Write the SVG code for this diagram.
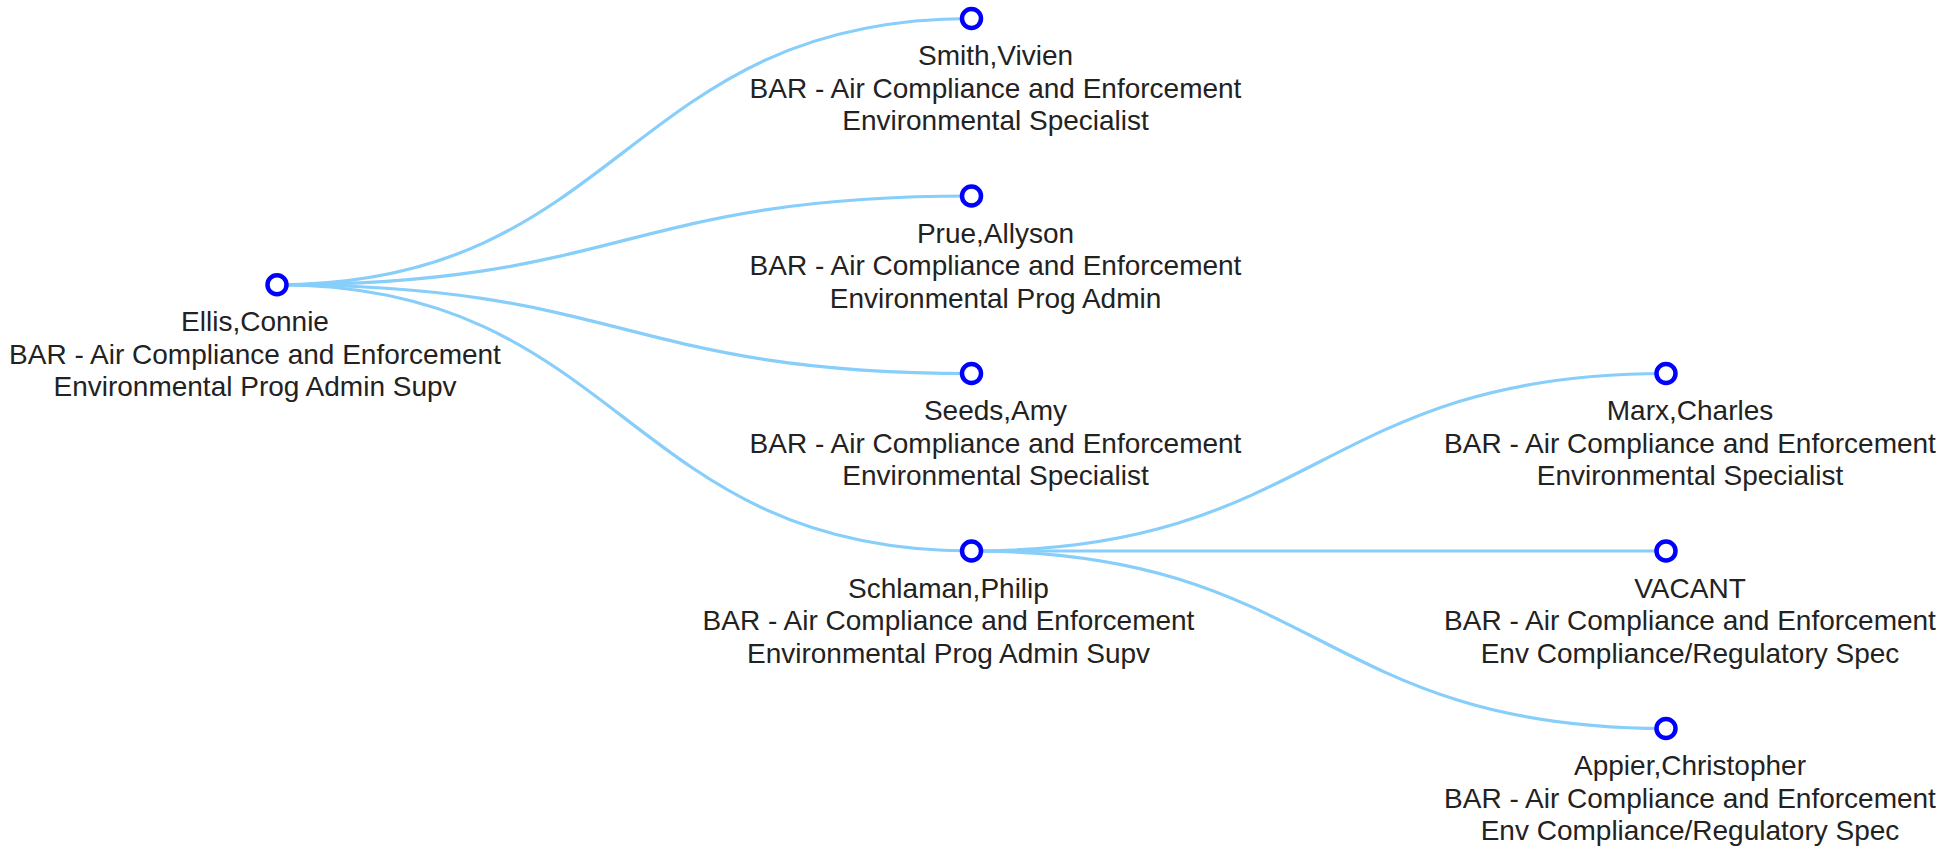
<svg xmlns="http://www.w3.org/2000/svg" width="1960" height="857" viewBox="0 0 1960 857">
<style>
.link{fill:none;stroke:#87cefa;stroke-width:3.2}
.node circle{fill:#fff;stroke:#0000ff;stroke-width:4.5}
.node text{font-family:"Liberation Sans",Arial,sans-serif;font-size:28px;fill:#222;text-anchor:middle}
</style>
<rect width="1960" height="857" fill="#fff"/>
<g id="connectors">
<path class="link" d="M277,284.75 C624.25,284.75 624.25,18.5 971.5,18.5"/>
<path class="link" d="M277,284.75 C624.25,284.75 624.25,196 971.5,196"/>
<path class="link" d="M277,284.75 C624.25,284.75 624.25,373.5 971.5,373.5"/>
<path class="link" d="M277,284.75 C624.25,284.75 624.25,551 971.5,551"/>
<path class="link" d="M971.5,551 C1318.75,551 1318.75,373.5 1666,373.5"/>
<path class="link" d="M971.5,551 C1318.75,551 1318.75,551 1666,551"/>
<path class="link" d="M971.5,551 C1318.75,551 1318.75,728.5 1666,728.5"/>
</g>
<g id="node-ellis" class="node" transform="translate(277,284.75)">
<circle r="9.5"/>
<text><tspan x="-22" y="46.5">Ellis,Connie</tspan><tspan x="-22" y="79">BAR - Air Compliance and Enforcement</tspan><tspan x="-22" y="111.5">Environmental Prog Admin Supv</tspan></text>
</g>
<g id="node-smith" class="node" transform="translate(971.5,18.5)">
<circle r="9.5"/>
<text><tspan x="24" y="46.5">Smith,Vivien</tspan><tspan x="24" y="79">BAR - Air Compliance and Enforcement</tspan><tspan x="24" y="111.5">Environmental Specialist</tspan></text>
</g>
<g id="node-prue" class="node" transform="translate(971.5,196)">
<circle r="9.5"/>
<text><tspan x="24" y="46.5">Prue,Allyson</tspan><tspan x="24" y="79">BAR - Air Compliance and Enforcement</tspan><tspan x="24" y="111.5">Environmental Prog Admin</tspan></text>
</g>
<g id="node-seeds" class="node" transform="translate(971.5,373.5)">
<circle r="9.5"/>
<text><tspan x="24" y="46.5">Seeds,Amy</tspan><tspan x="24" y="79">BAR - Air Compliance and Enforcement</tspan><tspan x="24" y="111.5">Environmental Specialist</tspan></text>
</g>
<g id="node-schlaman" class="node" transform="translate(971.5,551)">
<circle r="9.5"/>
<text><tspan x="-23" y="46.5">Schlaman,Philip</tspan><tspan x="-23" y="79">BAR - Air Compliance and Enforcement</tspan><tspan x="-23" y="111.5">Environmental Prog Admin Supv</tspan></text>
</g>
<g id="node-marx" class="node" transform="translate(1666,373.5)">
<circle r="9.5"/>
<text><tspan x="24" y="46.5">Marx,Charles</tspan><tspan x="24" y="79">BAR - Air Compliance and Enforcement</tspan><tspan x="24" y="111.5">Environmental Specialist</tspan></text>
</g>
<g id="node-vacant" class="node" transform="translate(1666,551)">
<circle r="9.5"/>
<text><tspan x="24" y="46.5">VACANT</tspan><tspan x="24" y="79">BAR - Air Compliance and Enforcement</tspan><tspan x="24" y="111.5">Env Compliance/Regulatory Spec</tspan></text>
</g>
<g id="node-appier" class="node" transform="translate(1666,728.5)">
<circle r="9.5"/>
<text><tspan x="24" y="46.5">Appier,Christopher</tspan><tspan x="24" y="79">BAR - Air Compliance and Enforcement</tspan><tspan x="24" y="111.5">Env Compliance/Regulatory Spec</tspan></text>
</g>
</svg>
